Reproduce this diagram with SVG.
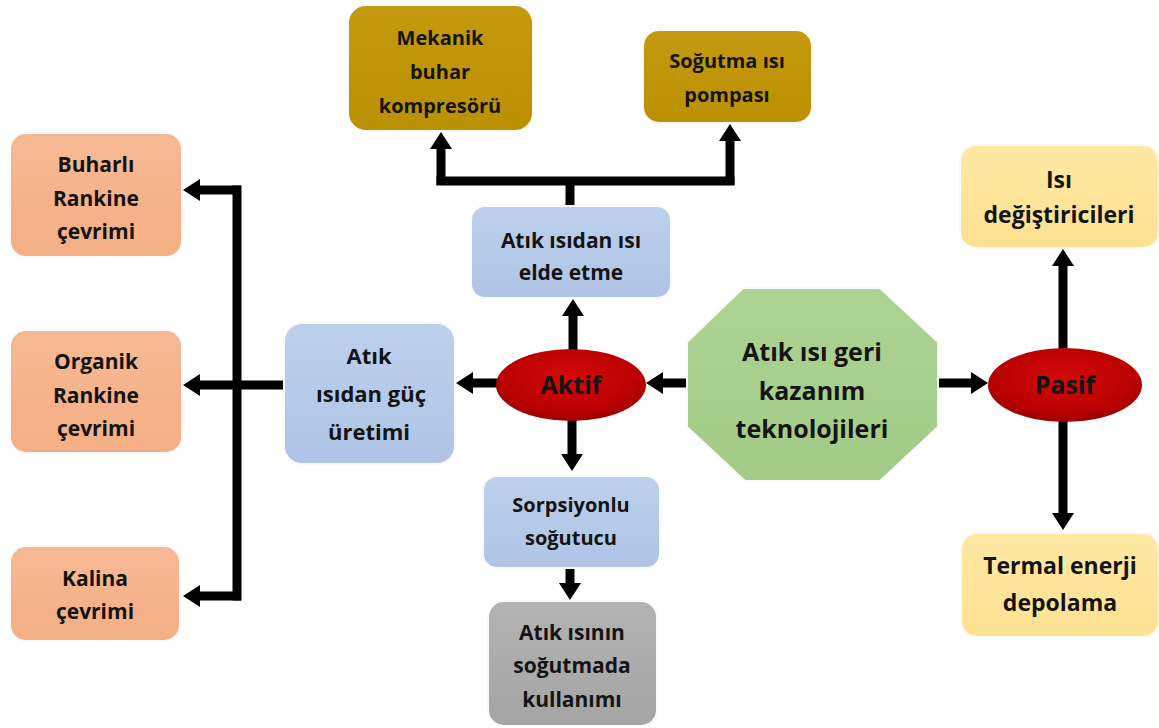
<svg xmlns="http://www.w3.org/2000/svg" width="1159" height="728" viewBox="0 0 1159 728">
<style>
.t{font-family:"Open Sans","Noto Sans","Liberation Sans",sans-serif;font-weight:bold;fill:#141414;text-anchor:middle}
.s20{font-size:20px}
.s21{font-size:21px}
.s22{font-size:22px}
.s23{font-size:23px}
.s25{font-size:25px}
.c{fill:none;stroke:#000;stroke-width:9}
.a{marker-end:url(#ah)}
.bx{stroke:#fafafa;stroke-width:2}
</style>
<defs>
<marker id="ah" markerUnits="userSpaceOnUse" markerWidth="18" markerHeight="22" refX="1" refY="11" orient="auto" overflow="visible">
<path d="M0,0 L17,11 L0,22 z" fill="#000"/>
</marker>
<linearGradient id="gOr" x1="0" y1="0" x2="0" y2="1"><stop offset="0" stop-color="#F7B994"/><stop offset="1" stop-color="#F4AE84"/></linearGradient>
<linearGradient id="gBl" x1="0" y1="0" x2="0" y2="1"><stop offset="0" stop-color="#BDD0EC"/><stop offset="1" stop-color="#AFC4E6"/></linearGradient>
<linearGradient id="gGo" x1="0" y1="0" x2="0" y2="1"><stop offset="0" stop-color="#C49A0E"/><stop offset="1" stop-color="#BB9002"/></linearGradient>
<linearGradient id="gGr" x1="0" y1="0" x2="0" y2="1"><stop offset="0" stop-color="#B3B3B3"/><stop offset="1" stop-color="#A4A4A4"/></linearGradient>
<linearGradient id="gYe" x1="0" y1="0" x2="0" y2="1"><stop offset="0" stop-color="#FFE9A3"/><stop offset="1" stop-color="#FDE192"/></linearGradient>
<linearGradient id="gGn" x1="0" y1="0" x2="0" y2="1"><stop offset="0" stop-color="#ADD393"/><stop offset="1" stop-color="#A2CB87"/></linearGradient>
<radialGradient id="gRd" cx="0.5" cy="0.4" r="0.6"><stop offset="0" stop-color="#D40A0A"/><stop offset="0.8" stop-color="#B80000"/><stop offset="1" stop-color="#9A0000"/></radialGradient>
</defs>

<g id="connectors">
<path class="c a" d="M689,383 H662"/>
<path class="c a" d="M498,383 H472"/>
<path class="c a" d="M573,352 V315"/>
<path class="c a" d="M572,419 V455"/>
<path class="c a" d="M570,568 V584"/>
<path class="c" d="M570,207 V181"/>
<path class="c" d="M436.5,181 H734.5"/>
<path class="c a" d="M441,185 V148"/>
<path class="c a" d="M730,185 V140"/>
<path class="c" d="M285,385 H237"/>
<path class="c" d="M237,185.5 V600.5"/>
<path class="c a" d="M241,190 H199"/>
<path class="c a" d="M241,385 H199"/>
<path class="c a" d="M241,596 H199"/>
<path class="c a" d="M938,383 H972"/>
<path class="c a" d="M1063,350 V265"/>
<path class="c a" d="M1063,421 V514"/>
</g>

<g id="n-buharli"><rect class="bx" x="10" y="133" width="172" height="124" rx="16" fill="url(#gOr)"/>
<text class="t s21" x="96" y="172">Buharlı</text><text class="t s21" x="96" y="206">Rankine</text><text class="t s21" x="96" y="239">çevrimi</text></g>
<g id="n-organik"><rect class="bx" x="10" y="330" width="172" height="123" rx="16" fill="url(#gOr)"/>
<text class="t s21" x="96" y="369">Organik</text><text class="t s21" x="96" y="403">Rankine</text><text class="t s21" x="96" y="436">çevrimi</text></g>
<g id="n-kalina"><rect class="bx" x="10" y="546" width="170" height="95" rx="16" fill="url(#gOr)"/>
<text class="t s21" x="95" y="586">Kalina</text><text class="t s21" x="95" y="619">çevrimi</text></g>

<g id="n-guc"><rect class="bx" x="284" y="323" width="171" height="141" rx="18" fill="url(#gBl)"/>
<text class="t s22" x="369" y="364">Atık</text><text class="t s22" x="371" y="402">ısıdan güç</text><text class="t s22" x="369" y="440">üretimi</text></g>

<g id="n-aktif"><ellipse cx="571" cy="385" rx="75" ry="36" fill="url(#gRd)"/>
<text class="t" style="font-size:25px" x="571" y="394">Aktif</text></g>

<g id="n-isi-elde"><rect class="bx" x="471" y="206" width="200" height="92" rx="14" fill="url(#gBl)"/>
<text class="t s21" x="571" y="248">Atık ısıdan ısı</text><text class="t s21" x="571" y="280">elde etme</text></g>

<g id="n-sorp"><rect class="bx" x="483" y="476" width="177" height="92" rx="14" fill="url(#gBl)"/>
<text class="t s20" x="571" y="512">Sorpsiyonlu</text><text class="t s20" x="571" y="545">soğutucu</text></g>

<g id="n-sogutma-kull"><rect class="bx" x="488" y="601" width="169" height="125" rx="16" fill="url(#gGr)"/>
<text class="t s21" x="572" y="640">Atık ısının</text><text class="t s21" x="572" y="673">soğutmada</text><text class="t s21" x="572" y="707">kullanımı</text></g>

<g id="n-mekanik"><rect class="bx" x="348" y="5" width="185" height="126" rx="18" fill="url(#gGo)"/>
<text class="t s20" x="440" y="45">Mekanik</text><text class="t s20" x="440" y="79">buhar</text><text class="t s20" x="440" y="113">kompresörü</text></g>

<g id="n-pompa"><rect class="bx" x="643" y="30" width="169" height="93" rx="16" fill="url(#gGo)"/>
<text class="t s20" x="727" y="68">Soğutma ısı</text><text class="t s20" x="727" y="102">pompası</text></g>

<g id="n-merkez"><polygon points="743,288 880,288 938,342 938,427 880,481 745,481 687,427 687,342" fill="url(#gGn)" stroke="#fafafa" stroke-width="2"/>
<text class="t s25" x="812" y="361">Atık ısı geri</text><text class="t s25" x="812" y="400">kazanım</text><text class="t s25" x="812" y="438">teknolojileri</text></g>

<g id="n-pasif"><ellipse cx="1065" cy="385" rx="77" ry="37" fill="url(#gRd)"/>
<text class="t" style="font-size:25px" x="1065" y="394">Pasif</text></g>

<g id="n-degistirici"><rect class="bx" x="960" y="145" width="199" height="103" rx="16" fill="url(#gYe)"/>
<text class="t s23" x="1059" y="188">Isı</text><text class="t s23" x="1059" y="223">değiştiricileri</text></g>

<g id="n-depolama"><rect class="bx" x="961" y="533" width="198" height="104" rx="16" fill="url(#gYe)"/>
<text class="t s23" x="1060" y="574">Termal enerji</text><text class="t s23" x="1060" y="611">depolama</text></g>
</svg>
